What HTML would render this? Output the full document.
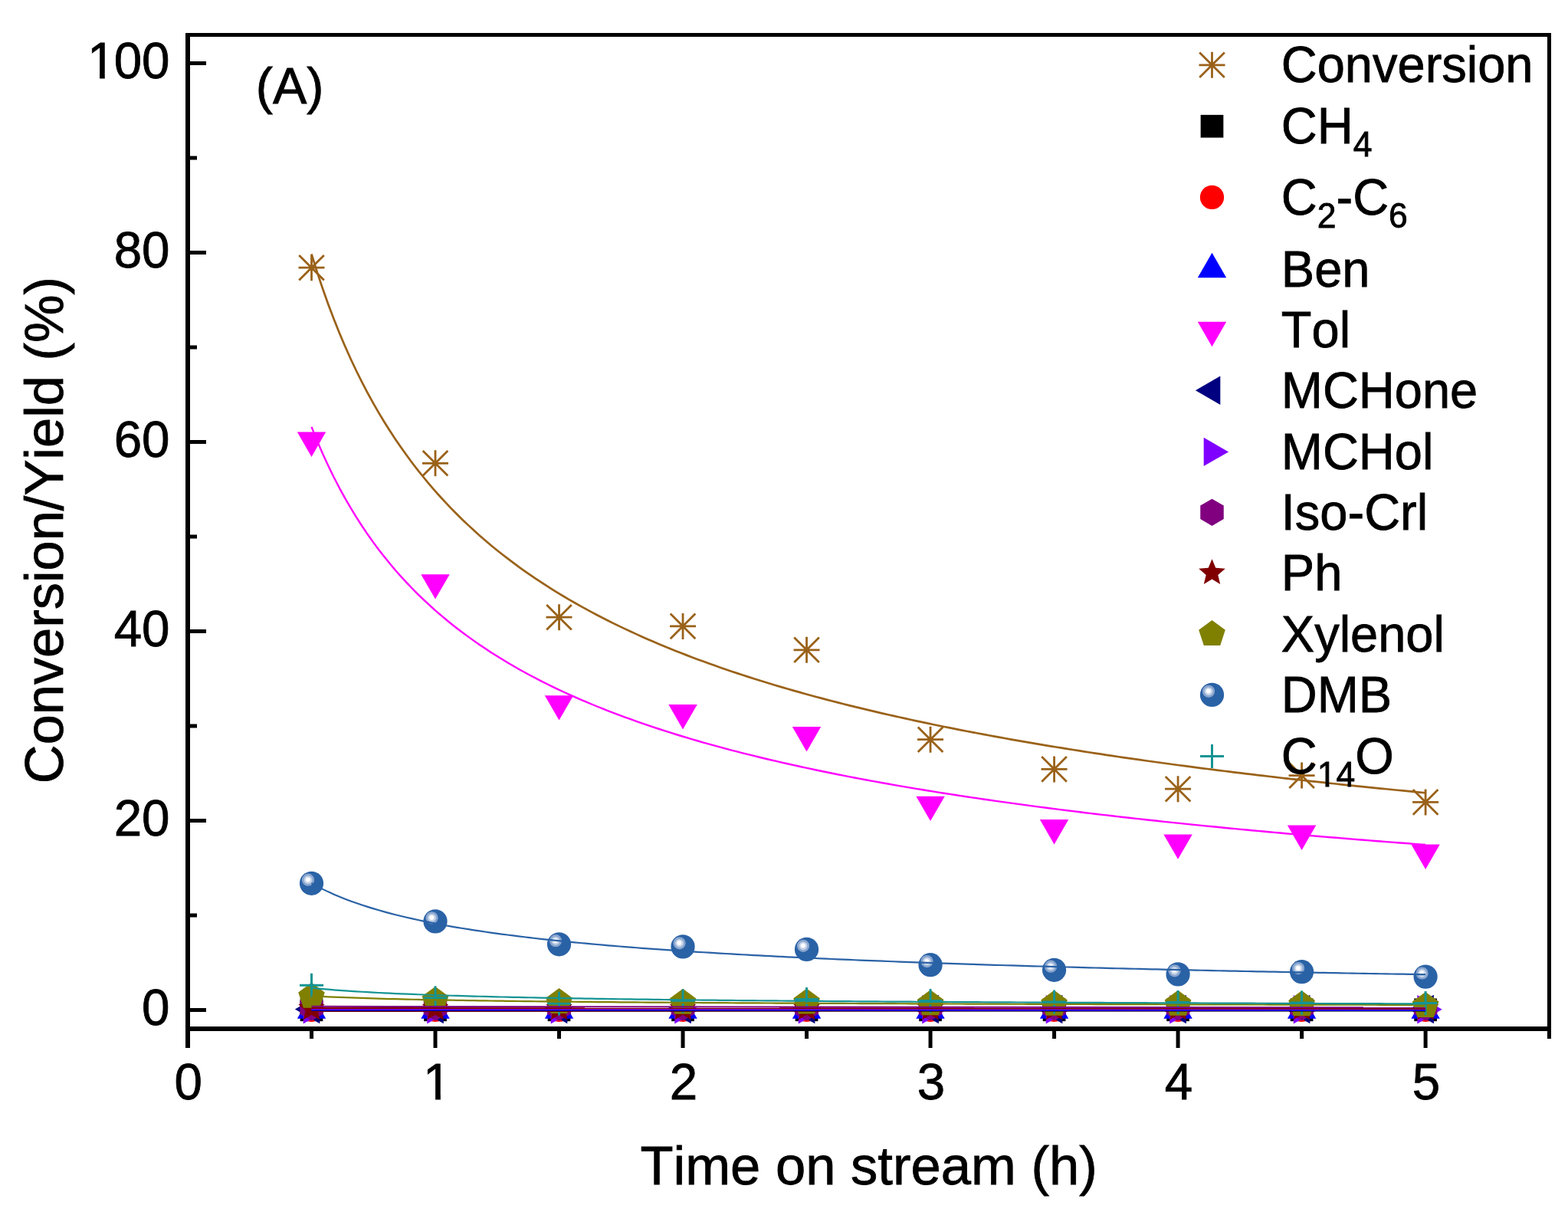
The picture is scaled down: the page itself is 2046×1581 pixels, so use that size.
<!DOCTYPE html>
<html><head><meta charset="utf-8"><title>Conversion/Yield vs Time on stream</title>
<style>html,body{margin:0;padding:0;background:#fff;}svg{display:block;}</style></head>
<body><svg width="2046" height="1581" viewBox="0 0 2046 1581">
<rect width="2046" height="1581" fill="#fff"/>
<defs><clipPath id="c0" clipPathUnits="userSpaceOnUse"><path clip-rule="evenodd" d="M-3000 -3000H3000V3000H-3000Z M2.49 -6.19H16.02V2H2.49Z M22.71 -6.19H35.73V2H22.71Z"/></clipPath><clipPath id="c1" clipPathUnits="userSpaceOnUse"><path clip-rule="evenodd" d="M-3000 -3000H3000V3000H-3000Z M-15.72 -6.19H-2.19V2H-15.72Z M4.5 -6.19H17.52V2H4.5Z"/></clipPath><clipPath id="c2" clipPathUnits="userSpaceOnUse"><path clip-rule="evenodd" d="M-3000 -3000H3000V3000H-3000Z M47.83 12.18H57.68V18.8H47.83Z M62.51 12.18H72.02V18.8H62.51Z"/></clipPath></defs>
<path d="M406.51 366.2L406.51 332.2M390.21 365.5L422.81 332.9M389.51 349.2L423.51 349.2M390.21 332.9L422.81 365.5" stroke="#9a6219" stroke-width="2.8" fill="none"/>
<path d="M568.02 621.3L568.02 587.3M551.72 620.6L584.32 588M551.02 604.3L585.02 604.3M551.72 588L584.32 620.6" stroke="#9a6219" stroke-width="2.8" fill="none"/>
<path d="M729.53 822.2L729.53 788.2M713.23 821.5L745.83 788.9M712.53 805.2L746.53 805.2M713.23 788.9L745.83 821.5" stroke="#9a6219" stroke-width="2.8" fill="none"/>
<path d="M891.04 833.9L891.04 799.9M874.74 833.2L907.34 800.6M874.04 816.9L908.04 816.9M874.74 800.6L907.34 833.2" stroke="#9a6219" stroke-width="2.8" fill="none"/>
<path d="M1052.55 864.8L1052.55 830.8M1036.25 864.1L1068.85 831.5M1035.55 847.8L1069.55 847.8M1036.25 831.5L1068.85 864.1" stroke="#9a6219" stroke-width="2.8" fill="none"/>
<path d="M1214.06 981.7L1214.06 947.7M1197.76 981L1230.36 948.4M1197.06 964.7L1231.06 964.7M1197.76 948.4L1230.36 981" stroke="#9a6219" stroke-width="2.8" fill="none"/>
<path d="M1375.57 1020.4L1375.57 986.4M1359.27 1019.7L1391.87 987.1M1358.57 1003.4L1392.57 1003.4M1359.27 987.1L1391.87 1019.7" stroke="#9a6219" stroke-width="2.8" fill="none"/>
<path d="M1537.08 1046.2L1537.08 1012.2M1520.78 1045.5L1553.38 1012.9M1520.08 1029.2L1554.08 1029.2M1520.78 1012.9L1553.38 1045.5" stroke="#9a6219" stroke-width="2.8" fill="none"/>
<path d="M1698.59 1028.6L1698.59 994.6M1682.29 1027.9L1714.89 995.3M1681.59 1011.6L1715.59 1011.6M1682.29 995.3L1714.89 1027.9" stroke="#9a6219" stroke-width="2.8" fill="none"/>
<path d="M1860.1 1063.4L1860.1 1029.4M1843.8 1062.7L1876.4 1030.1M1843.1 1046.4L1877.1 1046.4M1843.8 1030.1L1876.4 1062.7" stroke="#9a6219" stroke-width="2.8" fill="none"/>
<rect x="391.66" y="1302.45" width="29.7" height="29.7" fill="#000000"/>
<rect x="553.17" y="1302.45" width="29.7" height="29.7" fill="#000000"/>
<rect x="714.68" y="1302.45" width="29.7" height="29.7" fill="#000000"/>
<rect x="876.19" y="1302.45" width="29.7" height="29.7" fill="#000000"/>
<rect x="1037.7" y="1302.45" width="29.7" height="29.7" fill="#000000"/>
<rect x="1199.21" y="1302.45" width="29.7" height="29.7" fill="#000000"/>
<rect x="1360.72" y="1302.45" width="29.7" height="29.7" fill="#000000"/>
<rect x="1522.23" y="1302.45" width="29.7" height="29.7" fill="#000000"/>
<rect x="1683.74" y="1302.45" width="29.7" height="29.7" fill="#000000"/>
<rect x="1845.25" y="1302.45" width="29.7" height="29.7" fill="#000000"/>
<circle cx="406.51" cy="1317.3" r="15.6" fill="#ff0000"/>
<circle cx="568.02" cy="1317.3" r="15.6" fill="#ff0000"/>
<circle cx="729.53" cy="1317.3" r="15.6" fill="#ff0000"/>
<circle cx="891.04" cy="1317.3" r="15.6" fill="#ff0000"/>
<circle cx="1052.55" cy="1317.3" r="15.6" fill="#ff0000"/>
<circle cx="1214.06" cy="1317.3" r="15.6" fill="#ff0000"/>
<circle cx="1375.57" cy="1317.3" r="15.6" fill="#ff0000"/>
<circle cx="1537.08" cy="1317.3" r="15.6" fill="#ff0000"/>
<circle cx="1698.59" cy="1317.3" r="15.6" fill="#ff0000"/>
<circle cx="1860.1" cy="1317.3" r="15.6" fill="#ff0000"/>
<polygon points="406.51,1296.4 425.22,1328.8 387.8,1328.8" fill="#0000ff"/>
<polygon points="568.02,1296.4 586.73,1328.8 549.31,1328.8" fill="#0000ff"/>
<polygon points="729.53,1296.4 748.24,1328.8 710.82,1328.8" fill="#0000ff"/>
<polygon points="891.04,1296.4 909.75,1328.8 872.33,1328.8" fill="#0000ff"/>
<polygon points="1052.55,1296.4 1071.26,1328.8 1033.84,1328.8" fill="#0000ff"/>
<polygon points="1214.06,1296.4 1232.77,1328.8 1195.35,1328.8" fill="#0000ff"/>
<polygon points="1375.57,1296.4 1394.28,1328.8 1356.86,1328.8" fill="#0000ff"/>
<polygon points="1537.08,1296.4 1555.79,1328.8 1518.37,1328.8" fill="#0000ff"/>
<polygon points="1698.59,1296.4 1717.3,1328.8 1679.88,1328.8" fill="#0000ff"/>
<polygon points="1860.1,1296.4 1878.81,1328.8 1841.39,1328.8" fill="#0000ff"/>
<polygon points="406.51,595.9 387.8,563.5 425.22,563.5" fill="#ff00ff"/>
<polygon points="568.02,781.6 549.31,749.2 586.73,749.2" fill="#ff00ff"/>
<polygon points="729.53,939.6 710.82,907.2 748.24,907.2" fill="#ff00ff"/>
<polygon points="891.04,951.4 872.33,919 909.75,919" fill="#ff00ff"/>
<polygon points="1052.55,980.5 1033.84,948.1 1071.26,948.1" fill="#ff00ff"/>
<polygon points="1214.06,1071.1 1195.35,1038.7 1232.77,1038.7" fill="#ff00ff"/>
<polygon points="1375.57,1101.5 1356.86,1069.1 1394.28,1069.1" fill="#ff00ff"/>
<polygon points="1537.08,1120.8 1518.37,1088.4 1555.79,1088.4" fill="#ff00ff"/>
<polygon points="1698.59,1108.9 1679.88,1076.5 1717.3,1076.5" fill="#ff00ff"/>
<polygon points="1860.1,1133.9 1841.39,1101.5 1878.81,1101.5" fill="#ff00ff"/>
<polygon points="384.91,1316.5 417.31,1297.79 417.31,1335.21" fill="#000080"/>
<polygon points="546.42,1316.5 578.82,1297.79 578.82,1335.21" fill="#000080"/>
<polygon points="707.93,1316.5 740.33,1297.79 740.33,1335.21" fill="#000080"/>
<polygon points="869.44,1316.5 901.84,1297.79 901.84,1335.21" fill="#000080"/>
<polygon points="1030.95,1316.5 1063.35,1297.79 1063.35,1335.21" fill="#000080"/>
<polygon points="1192.46,1316.5 1224.86,1297.79 1224.86,1335.21" fill="#000080"/>
<polygon points="1353.97,1316.5 1386.37,1297.79 1386.37,1335.21" fill="#000080"/>
<polygon points="1515.48,1316.5 1547.88,1297.79 1547.88,1335.21" fill="#000080"/>
<polygon points="1676.99,1316.5 1709.39,1297.79 1709.39,1335.21" fill="#000080"/>
<polygon points="1838.5,1316.5 1870.9,1297.79 1870.9,1335.21" fill="#000080"/>
<polygon points="428.11,1316.8 395.71,1335.51 395.71,1298.09" fill="#8000ff"/>
<polygon points="589.62,1316.8 557.22,1335.51 557.22,1298.09" fill="#8000ff"/>
<polygon points="751.13,1316.8 718.73,1335.51 718.73,1298.09" fill="#8000ff"/>
<polygon points="912.64,1316.8 880.24,1335.51 880.24,1298.09" fill="#8000ff"/>
<polygon points="1074.15,1316.8 1041.75,1335.51 1041.75,1298.09" fill="#8000ff"/>
<polygon points="1235.66,1316.8 1203.26,1335.51 1203.26,1298.09" fill="#8000ff"/>
<polygon points="1397.17,1316.8 1364.77,1335.51 1364.77,1298.09" fill="#8000ff"/>
<polygon points="1558.68,1316.8 1526.28,1335.51 1526.28,1298.09" fill="#8000ff"/>
<polygon points="1720.19,1316.8 1687.79,1335.51 1687.79,1298.09" fill="#8000ff"/>
<polygon points="1881.7,1316.8 1849.3,1335.51 1849.3,1298.09" fill="#8000ff"/>
<polygon points="406.51,1296.4 421.75,1305.2 421.75,1322.8 406.51,1331.6 391.27,1322.8 391.27,1305.2" fill="#800080"/>
<polygon points="568.02,1296.4 583.26,1305.2 583.26,1322.8 568.02,1331.6 552.78,1322.8 552.78,1305.2" fill="#800080"/>
<polygon points="729.53,1296.4 744.77,1305.2 744.77,1322.8 729.53,1331.6 714.29,1322.8 714.29,1305.2" fill="#800080"/>
<polygon points="891.04,1296.4 906.28,1305.2 906.28,1322.8 891.04,1331.6 875.8,1322.8 875.8,1305.2" fill="#800080"/>
<polygon points="1052.55,1296.4 1067.79,1305.2 1067.79,1322.8 1052.55,1331.6 1037.31,1322.8 1037.31,1305.2" fill="#800080"/>
<polygon points="1214.06,1296.4 1229.3,1305.2 1229.3,1322.8 1214.06,1331.6 1198.82,1322.8 1198.82,1305.2" fill="#800080"/>
<polygon points="1375.57,1296.4 1390.81,1305.2 1390.81,1322.8 1375.57,1331.6 1360.33,1322.8 1360.33,1305.2" fill="#800080"/>
<polygon points="1537.08,1296.4 1552.32,1305.2 1552.32,1322.8 1537.08,1331.6 1521.84,1322.8 1521.84,1305.2" fill="#800080"/>
<polygon points="1698.59,1296.4 1713.83,1305.2 1713.83,1322.8 1698.59,1331.6 1683.35,1322.8 1683.35,1305.2" fill="#800080"/>
<polygon points="1860.1,1296.4 1875.34,1305.2 1875.34,1322.8 1860.1,1331.6 1844.86,1322.8 1844.86,1305.2" fill="#800080"/>
<polygon points="406.51,1297.4 411.32,1308.97 423.82,1309.98 414.3,1318.13 417.21,1330.32 406.51,1323.79 395.81,1330.32 398.72,1318.13 389.2,1309.98 401.7,1308.97" fill="#800000"/>
<polygon points="568.02,1297.4 572.83,1308.97 585.33,1309.98 575.81,1318.13 578.72,1330.32 568.02,1323.79 557.32,1330.32 560.23,1318.13 550.71,1309.98 563.21,1308.97" fill="#800000"/>
<polygon points="729.53,1297.4 734.34,1308.97 746.84,1309.98 737.32,1318.13 740.23,1330.32 729.53,1323.79 718.83,1330.32 721.74,1318.13 712.22,1309.98 724.72,1308.97" fill="#800000"/>
<polygon points="891.04,1297.4 895.85,1308.97 908.35,1309.98 898.83,1318.13 901.74,1330.32 891.04,1323.79 880.34,1330.32 883.25,1318.13 873.73,1309.98 886.23,1308.97" fill="#800000"/>
<polygon points="1052.55,1297.4 1057.36,1308.97 1069.86,1309.98 1060.34,1318.13 1063.25,1330.32 1052.55,1323.79 1041.85,1330.32 1044.76,1318.13 1035.24,1309.98 1047.74,1308.97" fill="#800000"/>
<polygon points="1214.06,1297.4 1218.87,1308.97 1231.37,1309.98 1221.85,1318.13 1224.76,1330.32 1214.06,1323.79 1203.36,1330.32 1206.27,1318.13 1196.75,1309.98 1209.25,1308.97" fill="#800000"/>
<polygon points="1375.57,1297.4 1380.38,1308.97 1392.88,1309.98 1383.36,1318.13 1386.27,1330.32 1375.57,1323.79 1364.87,1330.32 1367.78,1318.13 1358.26,1309.98 1370.76,1308.97" fill="#800000"/>
<polygon points="1537.08,1297.4 1541.89,1308.97 1554.39,1309.98 1544.87,1318.13 1547.78,1330.32 1537.08,1323.79 1526.38,1330.32 1529.29,1318.13 1519.77,1309.98 1532.27,1308.97" fill="#800000"/>
<polygon points="1698.59,1297.4 1703.4,1308.97 1715.9,1309.98 1706.38,1318.13 1709.29,1330.32 1698.59,1323.79 1687.89,1330.32 1690.8,1318.13 1681.28,1309.98 1693.78,1308.97" fill="#800000"/>
<polygon points="1860.1,1297.4 1864.91,1308.97 1877.41,1309.98 1867.89,1318.13 1870.8,1330.32 1860.1,1323.79 1849.4,1330.32 1852.31,1318.13 1842.79,1309.98 1855.29,1308.97" fill="#800000"/>
<polygon points="406.51,1281.8 423.82,1294.38 417.21,1314.72 395.81,1314.72 389.2,1294.38" fill="#808000"/>
<polygon points="568.02,1286.9 585.33,1299.48 578.72,1319.82 557.32,1319.82 550.71,1299.48" fill="#808000"/>
<polygon points="729.53,1289.1 746.84,1301.68 740.23,1322.02 718.83,1322.02 712.22,1301.68" fill="#808000"/>
<polygon points="891.04,1289.8 908.35,1302.38 901.74,1322.72 880.34,1322.72 873.73,1302.38" fill="#808000"/>
<polygon points="1052.55,1289.6 1069.86,1302.18 1063.25,1322.52 1041.85,1322.52 1035.24,1302.18" fill="#808000"/>
<polygon points="1214.06,1291.3 1231.37,1303.88 1224.76,1324.22 1203.36,1324.22 1196.75,1303.88" fill="#808000"/>
<polygon points="1375.57,1291.8 1392.88,1304.38 1386.27,1324.72 1364.87,1324.72 1358.26,1304.38" fill="#808000"/>
<polygon points="1537.08,1291.8 1554.39,1304.38 1547.78,1324.72 1526.38,1324.72 1519.77,1304.38" fill="#808000"/>
<polygon points="1698.59,1292.3 1715.9,1304.88 1709.29,1325.22 1687.89,1325.22 1681.28,1304.88" fill="#808000"/>
<polygon points="1860.1,1294 1877.41,1306.58 1870.8,1326.92 1849.4,1326.92 1842.79,1306.58" fill="#808000"/>
<circle cx="406.51" cy="1152.3" r="15.6" fill="#2a62a6"/><circle cx="402.01" cy="1147.7" r="8.1" fill="#8aa6cf"/><circle cx="402.01" cy="1147.7" r="5.4" fill="#c5d4e8"/><circle cx="401.81" cy="1147.5" r="3" fill="#ffffff"/>
<circle cx="568.02" cy="1201.9" r="15.6" fill="#2a62a6"/><circle cx="563.52" cy="1197.3" r="8.1" fill="#8aa6cf"/><circle cx="563.52" cy="1197.3" r="5.4" fill="#c5d4e8"/><circle cx="563.32" cy="1197.1" r="3" fill="#ffffff"/>
<circle cx="729.53" cy="1231.8" r="15.6" fill="#2a62a6"/><circle cx="725.03" cy="1227.2" r="8.1" fill="#8aa6cf"/><circle cx="725.03" cy="1227.2" r="5.4" fill="#c5d4e8"/><circle cx="724.83" cy="1227" r="3" fill="#ffffff"/>
<circle cx="891.04" cy="1234.9" r="15.6" fill="#2a62a6"/><circle cx="886.54" cy="1230.3" r="8.1" fill="#8aa6cf"/><circle cx="886.54" cy="1230.3" r="5.4" fill="#c5d4e8"/><circle cx="886.34" cy="1230.1" r="3" fill="#ffffff"/>
<circle cx="1052.55" cy="1238.4" r="15.6" fill="#2a62a6"/><circle cx="1048.05" cy="1233.8" r="8.1" fill="#8aa6cf"/><circle cx="1048.05" cy="1233.8" r="5.4" fill="#c5d4e8"/><circle cx="1047.85" cy="1233.6" r="3" fill="#ffffff"/>
<circle cx="1214.06" cy="1258.7" r="15.6" fill="#2a62a6"/><circle cx="1209.56" cy="1254.1" r="8.1" fill="#8aa6cf"/><circle cx="1209.56" cy="1254.1" r="5.4" fill="#c5d4e8"/><circle cx="1209.36" cy="1253.9" r="3" fill="#ffffff"/>
<circle cx="1375.57" cy="1265.3" r="15.6" fill="#2a62a6"/><circle cx="1371.07" cy="1260.7" r="8.1" fill="#8aa6cf"/><circle cx="1371.07" cy="1260.7" r="5.4" fill="#c5d4e8"/><circle cx="1370.87" cy="1260.5" r="3" fill="#ffffff"/>
<circle cx="1537.08" cy="1270.9" r="15.6" fill="#2a62a6"/><circle cx="1532.58" cy="1266.3" r="8.1" fill="#8aa6cf"/><circle cx="1532.58" cy="1266.3" r="5.4" fill="#c5d4e8"/><circle cx="1532.38" cy="1266.1" r="3" fill="#ffffff"/>
<circle cx="1698.59" cy="1267.7" r="15.6" fill="#2a62a6"/><circle cx="1694.09" cy="1263.1" r="8.1" fill="#8aa6cf"/><circle cx="1694.09" cy="1263.1" r="5.4" fill="#c5d4e8"/><circle cx="1693.89" cy="1262.9" r="3" fill="#ffffff"/>
<circle cx="1860.1" cy="1274.1" r="15.6" fill="#2a62a6"/><circle cx="1855.6" cy="1269.5" r="8.1" fill="#8aa6cf"/><circle cx="1855.6" cy="1269.5" r="5.4" fill="#c5d4e8"/><circle cx="1855.4" cy="1269.3" r="3" fill="#ffffff"/>
<path d="M391.01 1285.3H422.01M406.51 1269.8V1300.8" stroke="#159494" stroke-width="3" fill="none"/>
<path d="M552.52 1301.7H583.52M568.02 1286.2V1317.2" stroke="#159494" stroke-width="3" fill="none"/>
<path d="M714.03 1309H745.03M729.53 1293.5V1324.5" stroke="#159494" stroke-width="3" fill="none"/>
<path d="M875.54 1306H906.54M891.04 1290.5V1321.5" stroke="#159494" stroke-width="3" fill="none"/>
<path d="M1037.05 1303.5H1068.05M1052.55 1288V1319" stroke="#159494" stroke-width="3" fill="none"/>
<path d="M1198.56 1305.4H1229.56M1214.06 1289.9V1320.9" stroke="#159494" stroke-width="3" fill="none"/>
<path d="M1360.07 1307H1391.07M1375.57 1291.5V1322.5" stroke="#159494" stroke-width="3" fill="none"/>
<path d="M1521.58 1307.5H1552.58M1537.08 1292V1323" stroke="#159494" stroke-width="3" fill="none"/>
<path d="M1683.09 1308H1714.09M1698.59 1292.5V1323.5" stroke="#159494" stroke-width="3" fill="none"/>
<path d="M1844.6 1308.5H1875.6M1860.1 1293V1324" stroke="#159494" stroke-width="3" fill="none"/>
<path d="M406.51 1319L1860.1 1317.9" stroke="#ff0000" stroke-width="2" fill="none"/>
<path d="M406.51 1318.5L1860.1 1318.4" stroke="#000000" stroke-width="2" fill="none"/>
<path d="M406.51 1317.3L1860.1 1317.3" stroke="#000080" stroke-width="2" fill="none"/>
<path d="M406.51 1317.4L1860.1 1317.8" stroke="#0000ff" stroke-width="2" fill="none"/>
<path d="M406.51 1316.3L1860.1 1316.5" stroke="#8000ff" stroke-width="2" fill="none"/>
<path d="M406.51 1315L1860.1 1315.8" stroke="#800000" stroke-width="2" fill="none"/>
<path d="M406.51 1312.8L1860.1 1314.3" stroke="#800080" stroke-width="2" fill="none"/>
<path d="M406.51 1299.17 L413.81 1299.57 L421.12 1299.93 L428.42 1300.28 L435.73 1300.6 L443.03 1300.9 L450.34 1301.19 L457.64 1301.46 L464.95 1301.72 L472.25 1301.97 L479.55 1302.2 L486.86 1302.42 L494.16 1302.63 L501.47 1302.84 L508.77 1303.03 L516.08 1303.22 L523.38 1303.39 L530.69 1303.57 L537.99 1303.73 L545.29 1303.89 L552.6 1304.04 L559.9 1304.19 L567.21 1304.33 L574.51 1304.47 L581.82 1304.6 L589.12 1304.72 L596.43 1304.85 L603.73 1304.97 L611.04 1305.08 L618.34 1305.2 L625.64 1305.31 L632.95 1305.41 L640.25 1305.51 L647.56 1305.61 L654.86 1305.71 L662.17 1305.81 L669.47 1305.9 L676.78 1305.99 L684.08 1306.07 L691.38 1306.16 L698.69 1306.24 L705.99 1306.32 L713.3 1306.4 L720.6 1306.48 L727.91 1306.55 L735.21 1306.63 L742.52 1306.7 L749.82 1306.77 L757.12 1306.84 L764.43 1306.9 L771.73 1306.97 L779.04 1307.03 L786.34 1307.1 L793.65 1307.16 L800.95 1307.22 L808.26 1307.28 L815.56 1307.34 L822.86 1307.39 L830.17 1307.45 L837.47 1307.5 L844.78 1307.56 L852.08 1307.61 L859.39 1307.66 L866.69 1307.71 L874 1307.76 L881.3 1307.81 L888.61 1307.86 L895.91 1307.9 L903.21 1307.95 L910.52 1308 L917.82 1308.04 L925.13 1308.08 L932.43 1308.13 L939.74 1308.17 L947.04 1308.21 L954.35 1308.25 L961.65 1308.29 L968.95 1308.33 L976.26 1308.37 L983.56 1308.41 L990.87 1308.45 L998.17 1308.49 L1005.48 1308.52 L1012.78 1308.56 L1020.09 1308.6 L1027.39 1308.63 L1034.69 1308.67 L1042 1308.7 L1049.3 1308.74 L1056.61 1308.77 L1063.91 1308.8 L1071.22 1308.83 L1078.52 1308.87 L1085.83 1308.9 L1093.13 1308.93 L1100.43 1308.96 L1107.74 1308.99 L1115.04 1309.02 L1122.35 1309.05 L1129.65 1309.08 L1136.96 1309.11 L1144.26 1309.14 L1151.57 1309.16 L1158.87 1309.19 L1166.18 1309.22 L1173.48 1309.25 L1180.78 1309.27 L1188.09 1309.3 L1195.39 1309.33 L1202.7 1309.35 L1210 1309.38 L1217.31 1309.4 L1224.61 1309.43 L1231.92 1309.45 L1239.22 1309.48 L1246.52 1309.5 L1253.83 1309.52 L1261.13 1309.55 L1268.44 1309.57 L1275.74 1309.59 L1283.05 1309.62 L1290.35 1309.64 L1297.66 1309.66 L1304.96 1309.68 L1312.26 1309.71 L1319.57 1309.73 L1326.87 1309.75 L1334.18 1309.77 L1341.48 1309.79 L1348.79 1309.81 L1356.09 1309.83 L1363.4 1309.85 L1370.7 1309.87 L1378 1309.89 L1385.31 1309.91 L1392.61 1309.93 L1399.92 1309.95 L1407.22 1309.97 L1414.53 1309.99 L1421.83 1310.01 L1429.14 1310.03 L1436.44 1310.04 L1443.75 1310.06 L1451.05 1310.08 L1458.35 1310.1 L1465.66 1310.12 L1472.96 1310.13 L1480.27 1310.15 L1487.57 1310.17 L1494.88 1310.19 L1502.18 1310.2 L1509.49 1310.22 L1516.79 1310.24 L1524.09 1310.25 L1531.4 1310.27 L1538.7 1310.28 L1546.01 1310.3 L1553.31 1310.32 L1560.62 1310.33 L1567.92 1310.35 L1575.23 1310.36 L1582.53 1310.38 L1589.83 1310.39 L1597.14 1310.41 L1604.44 1310.42 L1611.75 1310.44 L1619.05 1310.45 L1626.36 1310.47 L1633.66 1310.48 L1640.97 1310.5 L1648.27 1310.51 L1655.57 1310.53 L1662.88 1310.54 L1670.18 1310.55 L1677.49 1310.57 L1684.79 1310.58 L1692.1 1310.59 L1699.4 1310.61 L1706.71 1310.62 L1714.01 1310.63 L1721.32 1310.65 L1728.62 1310.66 L1735.92 1310.67 L1743.23 1310.69 L1750.53 1310.7 L1757.84 1310.71 L1765.14 1310.72 L1772.45 1310.74 L1779.75 1310.75 L1787.06 1310.76 L1794.36 1310.77 L1801.66 1310.79 L1808.97 1310.8 L1816.27 1310.81 L1823.58 1310.82 L1830.88 1310.83 L1838.19 1310.85 L1845.49 1310.86 L1852.8 1310.87 L1860.1 1310.88" stroke="#808000" stroke-width="2.2" fill="none" stroke-linejoin="round"/>
<path d="M406.51 1288.66 L413.81 1289.38 L421.12 1290.05 L428.42 1290.68 L435.73 1291.28 L443.03 1291.83 L450.34 1292.36 L457.64 1292.86 L464.95 1293.33 L472.25 1293.77 L479.55 1294.19 L486.86 1294.6 L494.16 1294.98 L501.47 1295.35 L508.77 1295.7 L516.08 1296.03 L523.38 1296.35 L530.69 1296.66 L537.99 1296.95 L545.29 1297.24 L552.6 1297.51 L559.9 1297.77 L567.21 1298.03 L574.51 1298.27 L581.82 1298.51 L589.12 1298.73 L596.43 1298.95 L603.73 1299.17 L611.04 1299.37 L618.34 1299.57 L625.64 1299.77 L632.95 1299.95 L640.25 1300.14 L647.56 1300.31 L654.86 1300.48 L662.17 1300.65 L669.47 1300.81 L676.78 1300.97 L684.08 1301.12 L691.38 1301.27 L698.69 1301.42 L705.99 1301.56 L713.3 1301.7 L720.6 1301.84 L727.91 1301.97 L735.21 1302.1 L742.52 1302.22 L749.82 1302.34 L757.12 1302.46 L764.43 1302.58 L771.73 1302.7 L779.04 1302.81 L786.34 1302.92 L793.65 1303.02 L800.95 1303.13 L808.26 1303.23 L815.56 1303.33 L822.86 1303.43 L830.17 1303.53 L837.47 1303.62 L844.78 1303.72 L852.08 1303.81 L859.39 1303.9 L866.69 1303.99 L874 1304.07 L881.3 1304.16 L888.61 1304.24 L895.91 1304.32 L903.21 1304.4 L910.52 1304.48 L917.82 1304.56 L925.13 1304.63 L932.43 1304.71 L939.74 1304.78 L947.04 1304.85 L954.35 1304.92 L961.65 1304.99 L968.95 1305.06 L976.26 1305.13 L983.56 1305.2 L990.87 1305.26 L998.17 1305.33 L1005.48 1305.39 L1012.78 1305.45 L1020.09 1305.51 L1027.39 1305.58 L1034.69 1305.64 L1042 1305.69 L1049.3 1305.75 L1056.61 1305.81 L1063.91 1305.87 L1071.22 1305.92 L1078.52 1305.98 L1085.83 1306.03 L1093.13 1306.08 L1100.43 1306.14 L1107.74 1306.19 L1115.04 1306.24 L1122.35 1306.29 L1129.65 1306.34 L1136.96 1306.39 L1144.26 1306.44 L1151.57 1306.49 L1158.87 1306.53 L1166.18 1306.58 L1173.48 1306.63 L1180.78 1306.67 L1188.09 1306.72 L1195.39 1306.76 L1202.7 1306.8 L1210 1306.85 L1217.31 1306.89 L1224.61 1306.93 L1231.92 1306.97 L1239.22 1307.02 L1246.52 1307.06 L1253.83 1307.1 L1261.13 1307.14 L1268.44 1307.18 L1275.74 1307.22 L1283.05 1307.25 L1290.35 1307.29 L1297.66 1307.33 L1304.96 1307.37 L1312.26 1307.4 L1319.57 1307.44 L1326.87 1307.48 L1334.18 1307.51 L1341.48 1307.55 L1348.79 1307.58 L1356.09 1307.62 L1363.4 1307.65 L1370.7 1307.68 L1378 1307.72 L1385.31 1307.75 L1392.61 1307.78 L1399.92 1307.82 L1407.22 1307.85 L1414.53 1307.88 L1421.83 1307.91 L1429.14 1307.94 L1436.44 1307.97 L1443.75 1308.01 L1451.05 1308.04 L1458.35 1308.07 L1465.66 1308.1 L1472.96 1308.12 L1480.27 1308.15 L1487.57 1308.18 L1494.88 1308.21 L1502.18 1308.24 L1509.49 1308.27 L1516.79 1308.3 L1524.09 1308.32 L1531.4 1308.35 L1538.7 1308.38 L1546.01 1308.4 L1553.31 1308.43 L1560.62 1308.46 L1567.92 1308.48 L1575.23 1308.51 L1582.53 1308.54 L1589.83 1308.56 L1597.14 1308.59 L1604.44 1308.61 L1611.75 1308.64 L1619.05 1308.66 L1626.36 1308.68 L1633.66 1308.71 L1640.97 1308.73 L1648.27 1308.76 L1655.57 1308.78 L1662.88 1308.8 L1670.18 1308.83 L1677.49 1308.85 L1684.79 1308.87 L1692.1 1308.9 L1699.4 1308.92 L1706.71 1308.94 L1714.01 1308.96 L1721.32 1308.98 L1728.62 1309.01 L1735.92 1309.03 L1743.23 1309.05 L1750.53 1309.07 L1757.84 1309.09 L1765.14 1309.11 L1772.45 1309.13 L1779.75 1309.15 L1787.06 1309.17 L1794.36 1309.19 L1801.66 1309.21 L1808.97 1309.23 L1816.27 1309.25 L1823.58 1309.27 L1830.88 1309.29 L1838.19 1309.31 L1845.49 1309.33 L1852.8 1309.35 L1860.1 1309.37" stroke="#159494" stroke-width="2.2" fill="none" stroke-linejoin="round"/>
<path d="M406.51 1152.18 L413.81 1156.16 L421.12 1159.88 L428.42 1163.37 L435.73 1166.65 L443.03 1169.74 L450.34 1172.66 L457.64 1175.42 L464.95 1178.04 L472.25 1180.53 L479.55 1182.9 L486.86 1185.16 L494.16 1187.31 L501.47 1189.37 L508.77 1191.34 L516.08 1193.22 L523.38 1195.03 L530.69 1196.77 L537.99 1198.44 L545.29 1200.04 L552.6 1201.59 L559.9 1203.08 L567.21 1204.52 L574.51 1205.91 L581.82 1207.25 L589.12 1208.55 L596.43 1209.8 L603.73 1211.02 L611.04 1212.2 L618.34 1213.34 L625.64 1214.45 L632.95 1215.52 L640.25 1216.57 L647.56 1217.58 L654.86 1218.57 L662.17 1219.53 L669.47 1220.46 L676.78 1221.37 L684.08 1222.26 L691.38 1223.12 L698.69 1223.97 L705.99 1224.79 L713.3 1225.59 L720.6 1226.37 L727.91 1227.13 L735.21 1227.88 L742.52 1228.61 L749.82 1229.32 L757.12 1230.02 L764.43 1230.7 L771.73 1231.37 L779.04 1232.02 L786.34 1232.66 L793.65 1233.29 L800.95 1233.9 L808.26 1234.5 L815.56 1235.09 L822.86 1235.67 L830.17 1236.23 L837.47 1236.79 L844.78 1237.33 L852.08 1237.87 L859.39 1238.39 L866.69 1238.91 L874 1239.41 L881.3 1239.91 L888.61 1240.4 L895.91 1240.88 L903.21 1241.35 L910.52 1241.81 L917.82 1242.27 L925.13 1242.72 L932.43 1243.16 L939.74 1243.59 L947.04 1244.02 L954.35 1244.44 L961.65 1244.85 L968.95 1245.26 L976.26 1245.66 L983.56 1246.05 L990.87 1246.44 L998.17 1246.82 L1005.48 1247.2 L1012.78 1247.57 L1020.09 1247.93 L1027.39 1248.29 L1034.69 1248.65 L1042 1249 L1049.3 1249.34 L1056.61 1249.68 L1063.91 1250.02 L1071.22 1250.35 L1078.52 1250.68 L1085.83 1251 L1093.13 1251.32 L1100.43 1251.63 L1107.74 1251.94 L1115.04 1252.24 L1122.35 1252.54 L1129.65 1252.84 L1136.96 1253.14 L1144.26 1253.43 L1151.57 1253.71 L1158.87 1254 L1166.18 1254.27 L1173.48 1254.55 L1180.78 1254.82 L1188.09 1255.09 L1195.39 1255.36 L1202.7 1255.62 L1210 1255.88 L1217.31 1256.14 L1224.61 1256.39 L1231.92 1256.64 L1239.22 1256.89 L1246.52 1257.14 L1253.83 1257.38 L1261.13 1257.62 L1268.44 1257.86 L1275.74 1258.09 L1283.05 1258.32 L1290.35 1258.55 L1297.66 1258.78 L1304.96 1259 L1312.26 1259.23 L1319.57 1259.45 L1326.87 1259.66 L1334.18 1259.88 L1341.48 1260.09 L1348.79 1260.3 L1356.09 1260.51 L1363.4 1260.72 L1370.7 1260.92 L1378 1261.13 L1385.31 1261.33 L1392.61 1261.52 L1399.92 1261.72 L1407.22 1261.92 L1414.53 1262.11 L1421.83 1262.3 L1429.14 1262.49 L1436.44 1262.68 L1443.75 1262.86 L1451.05 1263.04 L1458.35 1263.23 L1465.66 1263.41 L1472.96 1263.59 L1480.27 1263.76 L1487.57 1263.94 L1494.88 1264.11 L1502.18 1264.28 L1509.49 1264.46 L1516.79 1264.62 L1524.09 1264.79 L1531.4 1264.96 L1538.7 1265.12 L1546.01 1265.29 L1553.31 1265.45 L1560.62 1265.61 L1567.92 1265.77 L1575.23 1265.93 L1582.53 1266.08 L1589.83 1266.24 L1597.14 1266.39 L1604.44 1266.54 L1611.75 1266.7 L1619.05 1266.85 L1626.36 1266.99 L1633.66 1267.14 L1640.97 1267.29 L1648.27 1267.43 L1655.57 1267.58 L1662.88 1267.72 L1670.18 1267.86 L1677.49 1268 L1684.79 1268.14 L1692.1 1268.28 L1699.4 1268.42 L1706.71 1268.56 L1714.01 1268.69 L1721.32 1268.82 L1728.62 1268.96 L1735.92 1269.09 L1743.23 1269.22 L1750.53 1269.35 L1757.84 1269.48 L1765.14 1269.61 L1772.45 1269.74 L1779.75 1269.86 L1787.06 1269.99 L1794.36 1270.11 L1801.66 1270.24 L1808.97 1270.36 L1816.27 1270.48 L1823.58 1270.6 L1830.88 1270.72 L1838.19 1270.84 L1845.49 1270.96 L1852.8 1271.08 L1860.1 1271.19" stroke="#2a62a6" stroke-width="2.2" fill="none" stroke-linejoin="round"/>
<path d="M406.51 556.85 L413.81 574.96 L421.12 591.9 L428.42 607.78 L435.73 622.72 L443.03 636.81 L450.34 650.11 L457.64 662.71 L464.95 674.65 L472.25 686 L479.55 696.8 L486.86 707.1 L494.16 716.92 L501.47 726.31 L508.77 735.3 L516.08 743.91 L523.38 752.17 L530.69 760.11 L537.99 767.73 L545.29 775.07 L552.6 782.14 L559.9 788.96 L567.21 795.53 L574.51 801.88 L581.82 808.02 L589.12 813.95 L596.43 819.7 L603.73 825.26 L611.04 830.65 L618.34 835.88 L625.64 840.95 L632.95 845.87 L640.25 850.66 L647.56 855.31 L654.86 859.83 L662.17 864.22 L669.47 868.51 L676.78 872.67 L684.08 876.74 L691.38 880.69 L698.69 884.55 L705.99 888.32 L713.3 891.99 L720.6 895.58 L727.91 899.08 L735.21 902.51 L742.52 905.85 L749.82 909.12 L757.12 912.32 L764.43 915.45 L771.73 918.51 L779.04 921.5 L786.34 924.44 L793.65 927.31 L800.95 930.13 L808.26 932.89 L815.56 935.59 L822.86 938.24 L830.17 940.84 L837.47 943.39 L844.78 945.89 L852.08 948.35 L859.39 950.76 L866.69 953.13 L874 955.45 L881.3 957.74 L888.61 959.98 L895.91 962.18 L903.21 964.35 L910.52 966.48 L917.82 968.57 L925.13 970.63 L932.43 972.66 L939.74 974.65 L947.04 976.61 L954.35 978.54 L961.65 980.44 L968.95 982.31 L976.26 984.15 L983.56 985.96 L990.87 987.75 L998.17 989.5 L1005.48 991.24 L1012.78 992.94 L1020.09 994.62 L1027.39 996.28 L1034.69 997.92 L1042 999.53 L1049.3 1001.11 L1056.61 1002.68 L1063.91 1004.22 L1071.22 1005.75 L1078.52 1007.25 L1085.83 1008.73 L1093.13 1010.2 L1100.43 1011.64 L1107.74 1013.06 L1115.04 1014.47 L1122.35 1015.86 L1129.65 1017.23 L1136.96 1018.58 L1144.26 1019.92 L1151.57 1021.24 L1158.87 1022.54 L1166.18 1023.83 L1173.48 1025.1 L1180.78 1026.35 L1188.09 1027.6 L1195.39 1028.82 L1202.7 1030.03 L1210 1031.23 L1217.31 1032.42 L1224.61 1033.59 L1231.92 1034.74 L1239.22 1035.89 L1246.52 1037.02 L1253.83 1038.14 L1261.13 1039.24 L1268.44 1040.34 L1275.74 1041.42 L1283.05 1042.49 L1290.35 1043.55 L1297.66 1044.59 L1304.96 1045.63 L1312.26 1046.65 L1319.57 1047.67 L1326.87 1048.67 L1334.18 1049.67 L1341.48 1050.65 L1348.79 1051.62 L1356.09 1052.58 L1363.4 1053.54 L1370.7 1054.48 L1378 1055.42 L1385.31 1056.34 L1392.61 1057.26 L1399.92 1058.17 L1407.22 1059.06 L1414.53 1059.95 L1421.83 1060.83 L1429.14 1061.71 L1436.44 1062.57 L1443.75 1063.43 L1451.05 1064.28 L1458.35 1065.12 L1465.66 1065.95 L1472.96 1066.78 L1480.27 1067.59 L1487.57 1068.4 L1494.88 1069.21 L1502.18 1070 L1509.49 1070.79 L1516.79 1071.57 L1524.09 1072.35 L1531.4 1073.11 L1538.7 1073.88 L1546.01 1074.63 L1553.31 1075.38 L1560.62 1076.12 L1567.92 1076.86 L1575.23 1077.58 L1582.53 1078.31 L1589.83 1079.02 L1597.14 1079.74 L1604.44 1080.44 L1611.75 1081.14 L1619.05 1081.83 L1626.36 1082.52 L1633.66 1083.2 L1640.97 1083.88 L1648.27 1084.55 L1655.57 1085.22 L1662.88 1085.88 L1670.18 1086.53 L1677.49 1087.18 L1684.79 1087.83 L1692.1 1088.47 L1699.4 1089.1 L1706.71 1089.73 L1714.01 1090.36 L1721.32 1090.98 L1728.62 1091.6 L1735.92 1092.21 L1743.23 1092.81 L1750.53 1093.42 L1757.84 1094.01 L1765.14 1094.61 L1772.45 1095.2 L1779.75 1095.78 L1787.06 1096.36 L1794.36 1096.94 L1801.66 1097.51 L1808.97 1098.08 L1816.27 1098.64 L1823.58 1099.2 L1830.88 1099.76 L1838.19 1100.31 L1845.49 1100.86 L1852.8 1101.4 L1860.1 1101.94" stroke="#ff00ff" stroke-width="2.4" fill="none" stroke-linejoin="round"/>
<path d="M406.51 331.38 L413.81 354.8 L421.12 376.71 L428.42 397.26 L435.73 416.58 L443.03 434.79 L450.34 451.99 L457.64 468.27 L464.95 483.71 L472.25 498.37 L479.55 512.32 L486.86 525.62 L494.16 538.32 L501.47 550.45 L508.77 562.05 L516.08 573.17 L523.38 583.84 L530.69 594.09 L537.99 603.93 L545.29 613.41 L552.6 622.53 L559.9 631.33 L567.21 639.81 L574.51 648.01 L581.82 655.93 L589.12 663.58 L596.43 670.99 L603.73 678.17 L611.04 685.12 L618.34 691.86 L625.64 698.41 L632.95 704.76 L640.25 710.92 L647.56 716.92 L654.86 722.75 L662.17 728.42 L669.47 733.94 L676.78 739.31 L684.08 744.55 L691.38 749.65 L698.69 754.63 L705.99 759.48 L713.3 764.21 L720.6 768.84 L727.91 773.35 L735.21 777.76 L742.52 782.07 L749.82 786.28 L757.12 790.4 L764.43 794.43 L771.73 798.38 L779.04 802.24 L786.34 806.02 L793.65 809.72 L800.95 813.34 L808.26 816.9 L815.56 820.38 L822.86 823.79 L830.17 827.14 L837.47 830.42 L844.78 833.65 L852.08 836.81 L859.39 839.91 L866.69 842.96 L874 845.95 L881.3 848.89 L888.61 851.78 L895.91 854.62 L903.21 857.4 L910.52 860.15 L917.82 862.84 L925.13 865.49 L932.43 868.1 L939.74 870.66 L947.04 873.18 L954.35 875.67 L961.65 878.11 L968.95 880.52 L976.26 882.88 L983.56 885.22 L990.87 887.51 L998.17 889.77 L1005.48 892 L1012.78 894.2 L1020.09 896.36 L1027.39 898.49 L1034.69 900.59 L1042 902.67 L1049.3 904.71 L1056.61 906.72 L1063.91 908.71 L1071.22 910.67 L1078.52 912.6 L1085.83 914.51 L1093.13 916.39 L1100.43 918.24 L1107.74 920.08 L1115.04 921.88 L1122.35 923.67 L1129.65 925.43 L1136.96 927.17 L1144.26 928.89 L1151.57 930.59 L1158.87 932.26 L1166.18 933.92 L1173.48 935.55 L1180.78 937.16 L1188.09 938.76 L1195.39 940.34 L1202.7 941.89 L1210 943.43 L1217.31 944.96 L1224.61 946.46 L1231.92 947.95 L1239.22 949.42 L1246.52 950.87 L1253.83 952.31 L1261.13 953.73 L1268.44 955.13 L1275.74 956.52 L1283.05 957.9 L1290.35 959.26 L1297.66 960.61 L1304.96 961.94 L1312.26 963.25 L1319.57 964.56 L1326.87 965.85 L1334.18 967.12 L1341.48 968.39 L1348.79 969.64 L1356.09 970.87 L1363.4 972.1 L1370.7 973.31 L1378 974.51 L1385.31 975.7 L1392.61 976.88 L1399.92 978.04 L1407.22 979.19 L1414.53 980.34 L1421.83 981.47 L1429.14 982.59 L1436.44 983.7 L1443.75 984.8 L1451.05 985.89 L1458.35 986.97 L1465.66 988.04 L1472.96 989.1 L1480.27 990.15 L1487.57 991.19 L1494.88 992.22 L1502.18 993.24 L1509.49 994.25 L1516.79 995.26 L1524.09 996.25 L1531.4 997.24 L1538.7 998.22 L1546.01 999.19 L1553.31 1000.15 L1560.62 1001.1 L1567.92 1002.04 L1575.23 1002.98 L1582.53 1003.91 L1589.83 1004.83 L1597.14 1005.74 L1604.44 1006.64 L1611.75 1007.54 L1619.05 1008.43 L1626.36 1009.32 L1633.66 1010.19 L1640.97 1011.06 L1648.27 1011.92 L1655.57 1012.78 L1662.88 1013.62 L1670.18 1014.47 L1677.49 1015.3 L1684.79 1016.13 L1692.1 1016.95 L1699.4 1017.76 L1706.71 1018.57 L1714.01 1019.38 L1721.32 1020.17 L1728.62 1020.96 L1735.92 1021.75 L1743.23 1022.53 L1750.53 1023.3 L1757.84 1024.07 L1765.14 1024.83 L1772.45 1025.58 L1779.75 1026.33 L1787.06 1027.08 L1794.36 1027.82 L1801.66 1028.55 L1808.97 1029.28 L1816.27 1030 L1823.58 1030.72 L1830.88 1031.43 L1838.19 1032.14 L1845.49 1032.84 L1852.8 1033.54 L1860.1 1034.23" stroke="#9a6219" stroke-width="2.7" fill="none" stroke-linejoin="round"/>
<rect x="242" y="43" width="6" height="1324" fill="#000"/>
<rect x="2019" y="43" width="5" height="1312" fill="#000"/>
<rect x="242" y="43" width="1782" height="5" fill="#000"/>
<rect x="242" y="1339" width="1782" height="6" fill="#000"/>
<rect x="248" y="1315" width="21" height="5" fill="#000"/>
<rect x="248" y="1191.5" width="9" height="5" fill="#000"/>
<rect x="248" y="1068" width="21" height="5" fill="#000"/>
<rect x="248" y="944.5" width="9" height="5" fill="#000"/>
<rect x="248" y="821" width="21" height="5" fill="#000"/>
<rect x="248" y="697.5" width="9" height="5" fill="#000"/>
<rect x="248" y="574" width="21" height="5" fill="#000"/>
<rect x="248" y="450.5" width="9" height="5" fill="#000"/>
<rect x="248" y="327" width="21" height="5" fill="#000"/>
<rect x="248" y="203.5" width="9" height="5" fill="#000"/>
<rect x="248" y="80" width="21" height="5" fill="#000"/>
<rect x="404.01" y="1345" width="5" height="10" fill="#000"/>
<rect x="565.52" y="1345" width="5" height="22" fill="#000"/>
<rect x="727.03" y="1345" width="5" height="10" fill="#000"/>
<rect x="888.54" y="1345" width="5" height="22" fill="#000"/>
<rect x="1050.05" y="1345" width="5" height="10" fill="#000"/>
<rect x="1211.56" y="1345" width="5" height="22" fill="#000"/>
<rect x="1373.07" y="1345" width="5" height="10" fill="#000"/>
<rect x="1534.58" y="1345" width="5" height="22" fill="#000"/>
<rect x="1696.09" y="1345" width="5" height="10" fill="#000"/>
<rect x="1857.6" y="1345" width="5" height="22" fill="#000"/>
<g font-family="Liberation Sans, Arial, sans-serif" style="font-kerning:none" stroke="#000" stroke-width="0.8" fill="#000"><text transform="translate(221.5,1337.2) scale(1,1.03)" font-size="65.5" text-anchor="end">0</text><text transform="translate(221.5,1090.2) scale(1,1.03)" font-size="65.5" text-anchor="end">20</text><text transform="translate(221.5,843.2) scale(1,1.03)" font-size="65.5" text-anchor="end">40</text><text transform="translate(221.5,596.2) scale(1,1.03)" font-size="65.5" text-anchor="end">60</text><text transform="translate(221.5,349.2) scale(1,1.03)" font-size="65.5" text-anchor="end">80</text><text transform="translate(221.5,102.2) scale(1,1.03)" font-size="65.5" text-anchor="end">00</text><text transform="translate(114.02,102.2) scale(1,1.03)" font-size="65.5" clip-path="url(#c0)">1</text><text transform="translate(245.8,1434.3) scale(1,1.03)" font-size="65.5" text-anchor="middle">0</text><text transform="translate(570.32,1434.3) scale(1,1.03)" font-size="65.5" text-anchor="middle" clip-path="url(#c1)">1</text><text transform="translate(891.84,1434.3) scale(1,1.03)" font-size="65.5" text-anchor="middle">2</text><text transform="translate(1214.86,1434.3) scale(1,1.03)" font-size="65.5" text-anchor="middle">3</text><text transform="translate(1537.88,1434.3) scale(1,1.03)" font-size="65.5" text-anchor="middle">4</text><text transform="translate(1860.9,1434.3) scale(1,1.03)" font-size="65.5" text-anchor="middle">5</text><text transform="translate(835.4,1544.8) scale(1,1.0)" font-size="70.6">Time on stream (h)</text><text transform="translate(82.1,1022.2) rotate(-90) scale(1,1.0)" font-size="70.4">Conversion/Yield (%)</text><text transform="translate(333.8,134.8) scale(1,1.01)" font-size="66.5">(A)</text><g stroke="none"><path d="M1581.5 101.8L1581.5 67.8M1565.2 101.1L1597.8 68.5M1564.5 84.8L1598.5 84.8M1565.2 68.5L1597.8 101.1" stroke="#9a6219" stroke-width="2.8" fill="none"/></g><text transform="translate(1671.8,107.4) scale(1,1.02)" font-size="65">Conversion</text><g stroke="none"><rect x="1566.65" y="149.85" width="29.7" height="29.7" fill="#000000"/></g><text transform="translate(1671.8,187.3) scale(1,1.02)" font-size="65">CH<tspan font-size="44.5" dy="16.8">4</tspan></text><g stroke="none"><circle cx="1581.5" cy="257.4" r="15.6" fill="#ff0000"/></g><text transform="translate(1671.8,280) scale(1,1.02)" font-size="65">C<tspan font-size="44.5" dy="16.8">2</tspan><tspan dy="-16.8">-C</tspan><tspan font-size="44.5" dy="16.8">6</tspan></text><g stroke="none"><polygon points="1581.5,329.8 1600.21,362.2 1562.79,362.2" fill="#0000ff"/></g><text transform="translate(1671.8,374) scale(1,1.02)" font-size="65">Ben</text><g stroke="none"><polygon points="1581.5,452.2 1562.79,419.8 1600.21,419.8" fill="#ff00ff"/></g><text transform="translate(1671.8,453.2) scale(1,1.02)" font-size="65">Tol</text><g stroke="none"><polygon points="1559.9,509.3 1592.3,490.59 1592.3,528.01" fill="#000080"/></g><text transform="translate(1671.8,531.9) scale(1,1.02)" font-size="65">MCHone</text><g stroke="none"><polygon points="1603.1,589.4 1570.7,608.11 1570.7,570.69" fill="#8000ff"/></g><text transform="translate(1671.8,612) scale(1,1.02)" font-size="65">MCHol</text><g stroke="none"><polygon points="1581.5,650.7 1596.74,659.5 1596.74,677.1 1581.5,685.9 1566.26,677.1 1566.26,659.5" fill="#800080"/></g><text transform="translate(1671.8,690.9) scale(1,1.02)" font-size="65">Iso-Crl</text><g stroke="none"><polygon points="1581.5,729.2 1586.31,740.77 1598.81,741.78 1589.29,749.93 1592.2,762.12 1581.5,755.59 1570.8,762.12 1573.71,749.93 1564.19,741.78 1576.69,740.77" fill="#800000"/></g><text transform="translate(1671.8,770) scale(1,1.02)" font-size="65">Ph</text><g stroke="none"><polygon points="1581.5,809.1 1598.81,821.68 1592.2,842.02 1570.8,842.02 1564.19,821.68" fill="#808000"/></g><text transform="translate(1671.8,849.9) scale(1,1.02)" font-size="65">Xylenol</text><g stroke="none"><circle cx="1581.5" cy="906.4" r="15.6" fill="#2a62a6"/><circle cx="1577" cy="901.8" r="8.1" fill="#8aa6cf"/><circle cx="1577" cy="901.8" r="5.4" fill="#c5d4e8"/><circle cx="1576.8" cy="901.6" r="3" fill="#ffffff"/></g><text transform="translate(1671.8,929) scale(1,1.02)" font-size="65">DMB</text><g stroke="none"><path d="M1566 986.6H1597M1581.5 971.1V1002.1" stroke="#159494" stroke-width="3" fill="none"/></g><text transform="translate(1671.8,1009.2) scale(1,1.02)" font-size="65" clip-path="url(#c2)">C<tspan font-size="44.5" dy="16.8">14</tspan><tspan dy="-16.8">O</tspan></text></g>
</svg></body></html>
